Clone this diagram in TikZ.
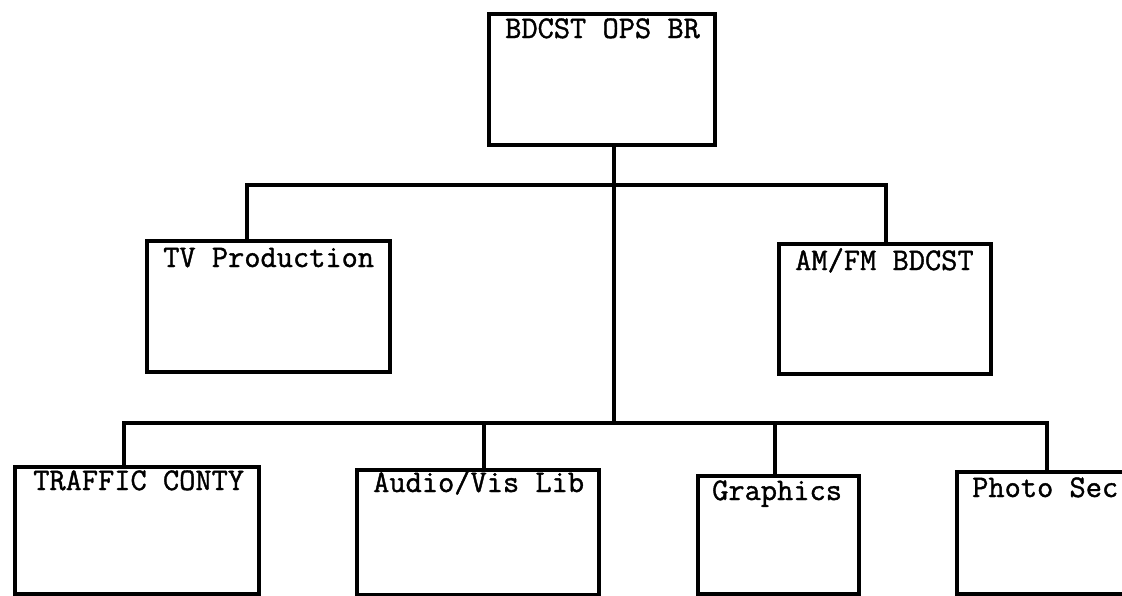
\documentclass[tikz,border=0pt]{standalone}
\usepackage{fontspec}
\newfontfamily\typewriter[FakeBold=1.2]{Latin Modern Mono}
\begin{document}
\begin{tikzpicture}[x=1pt,y=-1pt,
  box/.style={draw=black, line width=3.5pt, fill=none, inner sep=0pt, anchor=north west},
  lbl/.style={anchor=base west, inner sep=0pt, font=\fontsize{31.5}{31.5}\selectfont\typewriter},
  conn/.style={draw=black, line width=3.5pt, line join=miter}]
\useasboundingbox (0,0) rectangle (1122,595);
\fill[white] (0,0) rectangle (1122,595);
\clip (0,0) rectangle (1122,595);
% boxes
\node[box, minimum width=226pt, minimum height=131pt] (top) at (487,12) {};
\node[box, minimum width=243pt, minimum height=131pt] (tv) at (145,239) {};
\node[box, minimum width=212pt, minimum height=130pt] (am) at (777,242) {};
\node[box, minimum width=244pt, minimum height=127pt] (traffic) at (13,465) {};
\node[box, minimum width=242pt, minimum height=125pt] (audio) at (355,468) {};
\node[box, minimum width=161pt, minimum height=118pt] (graphics) at (696,474) {};
\node[box, minimum width=200pt, minimum height=122pt] (photo) at (955,470) {};
% labels
\node[lbl] (ltop) at ([shift={(18,26)}]top.north west) {BDCST OPS BR};
\node[lbl] (ltv) at ([shift={(18,28)}]tv.north west) {TV Production};
\node[lbl] (lam) at ([shift={(18,28)}]am.north west) {AM/FM BDCST};
\node[lbl] (ltraffic) at ([shift={(20,25)}]traffic.north west) {TRAFFIC CONTY};
\node[lbl] (laudio) at ([shift={(18,24)}]audio.north west) {Audio/Vis Lib};
\node[lbl] (lgraphics) at ([shift={(16,26)}]graphics.north west) {Graphics};
\node[lbl] (lphoto) at ([shift={(17,27)}]photo.north west) {Photo Sec};
% bus coordinates
\coordinate (ul) at (247,185);
\coordinate (ur) at (886,185);
\coordinate (tk) at (614,185);
\coordinate (ll) at (124,423);
\coordinate (lr) at (1047,423);
\coordinate (la) at (484,423);
\coordinate (lg) at (775,423);
\coordinate (lt) at (614,423);
% connectors
\draw[conn] (top.south -| tk) -- (lt);
\draw[conn] (tv.north -| ul) -- (ul) -- (ur) -- (am.north -| ur);
\draw[conn] (traffic.north -| ll) -- (ll) -- (lr) -- (photo.north -| lr);
\draw[conn] (la) -- (audio.north -| la);
\draw[conn] (lg) -- (graphics.north -| lg);
\end{tikzpicture}
\end{document}
